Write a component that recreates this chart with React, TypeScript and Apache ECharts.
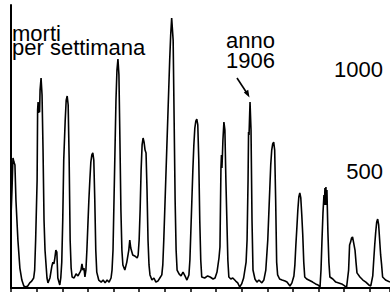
import React, { useEffect, useRef } from "react";
import * as echarts from "echarts";

// settimana (weeks since start of 1897) and weekly deaths
const settimane: number[] = [
  0, 2, 4, 6, 8, 10, 14, 18, 22, 26, 30, 34, 38, 42, 46, 48, 50, 53, 54, 55, 56, 57, 58, 59, 61, 63, 65, 67, 69, 73, 75, 79,
  83, 85, 87, 89, 91, 93, 95, 99, 101, 103, 105, 107, 110, 112, 114, 116, 118, 120, 122, 124, 128, 132, 136, 140, 142, 144,
  146, 148, 150, 152, 154, 156, 158, 160, 162, 164, 166, 168, 170, 172, 174, 178, 183, 187, 191, 195, 199, 203, 205, 207,
  209, 211, 213, 215, 217, 219, 221, 223, 225, 227, 231, 235, 239, 241, 243, 247, 251, 256, 258, 260, 262, 264, 266, 268,
  270, 272, 274, 276, 278, 280, 282, 286, 290, 294, 298, 302, 306, 308, 310, 312, 314, 316, 318, 320, 322, 324, 326, 329,
  331, 333, 335, 337, 341, 345, 349, 353, 357, 361, 363, 365, 367, 369, 371, 373, 375, 377, 379, 381, 383, 385, 387, 393,
  399, 404, 410, 414, 418, 422, 424, 426, 427, 428, 429, 430, 432, 434, 436, 438, 440, 442, 446, 450, 456, 460, 464, 468,
  472, 477, 479, 481, 482, 483, 485, 487, 489, 491, 495, 499, 503, 509, 513, 517, 519, 521, 523, 525, 527, 529, 531, 533,
  535, 537, 539, 541, 545, 550, 556, 560, 566, 570, 574, 576, 578, 580, 582, 584, 586, 588, 590, 592, 594, 596, 600, 604,
  608, 612, 618, 623, 627, 629, 631, 633, 635, 636, 637, 638, 639, 640, 641, 643, 645, 647, 653, 659, 665, 671, 677, 681,
  685, 687, 689, 691, 693, 695, 698, 700, 702, 708, 714, 720, 726, 730, 734, 736, 738, 740, 742, 744, 746, 748, 750, 752,
  754, 760, 769,
];

const morti: number[] = [
  348, 480, 637, 617, 603, 431, 235, 98, 39, 10, 5, 10, 25, 34, 49, 88, 235, 529, 872, 911, 858, 902, 862, 970, 1029, 946, 676, 333, 186, 49, 25, 49,
  108, 127, 118, 147, 186, 176, 49, 15, 49, 127, 333, 627, 823, 921, 941, 897, 627, 235, 98, 54, 49, 69, 59, 78, 88, 118,
  88, 98, 54, 88, 186, 309, 431, 529, 617, 652, 662, 627, 431, 186, 78, 39, 29, 39, 25, 39, 29, 49, 88, 186,
  431, 676, 921, 1068, 1122, 1044, 725, 382, 186, 113, 88, 127, 186, 235, 196, 162, 157, 147, 162, 235, 382, 578, 701, 735,
  715, 676, 662, 480, 235, 113, 64, 39, 49, 29, 34, 49, 64, 113, 235, 382, 529, 676, 823, 970, 1117, 1240, 1323, 1215,
  823, 431, 186, 88, 69, 59, 78, 59, 39, 64, 137, 284, 431, 578, 701, 784, 818, 828, 799, 627, 333, 137, 54, 49,
  59, 54, 44, 49, 78, 147, 201, 588, 652, 588, 652, 725, 813, 774, 529, 333, 137, 54, 44, 49, 34, 25, 5, 20,
  49, 127, 235, 529, 764, 750, 911, 774, 333, 88, 44, 29, 39, 25, 39, 88, 162, 235, 358, 480, 603, 676, 706, 715,
  676, 431, 127, 64, 44, 39, 34, 29, 10, 25, 59, 113, 211, 294, 382, 446, 466, 441, 358, 260, 127, 54, 44, 39,
  34, 29, 20, 15, 5, 88, 235, 368, 456, 407, 490, 407, 495, 407, 480, 274, 127, 54, 44, 29, 25, 20, 10, 5,
  88, 211, 225, 245, 250, 225, 186, 127, 74, 54, 39, 29, 15, 10, 59, 137, 211, 274, 323, 338, 309, 235, 162, 113,
  54, 39, 29,
];

const etichetteY: number[] = [500, 1000];
const titolo = "morti\nper settimana";
const nota = "anno\n1906";

const FONT = "'Liberation Sans', Arial, Helvetica, sans-serif";

export default function App() {
  const ref = useRef<HTMLDivElement>(null);
  useEffect(() => {
    if (!ref.current) return;
    const chart = echarts.init(ref.current, undefined, { renderer: "svg" });
    const data = settimane.map((w, i) => [w, morti[i]]);
    chart.setOption({
      animation: false,
      backgroundColor: "#fff",
      grid: { left: 11, right: 0, top: 5, bottom: 4, containLabel: false },
      xAxis: {
        type: "value",
        min: 0,
        max: 769,
        interval: 52,
        axisLine: { show: true, lineStyle: { color: "#000", width: 2 } },
        axisTick: { show: true, length: 5, lineStyle: { color: "#000", width: 1.5 } },
        axisLabel: { show: false },
        splitLine: { show: false },
      },
      yAxis: [
        {
          type: "value",
          position: "left",
          min: 0,
          max: 1387,
          axisLine: { show: true, lineStyle: { color: "#000", width: 2 } },
          axisTick: { show: false },
          axisLabel: { show: false },
          splitLine: { show: false },
        },
        {
          type: "value",
          position: "right",
          min: 0,
          max: 1387,
          axisLine: { show: false },
          axisTick: { show: false },
          splitLine: { show: false },
          axisLabel: {
            show: true,
            inside: true,
            margin: 7,
            customValues: etichetteY,
            color: "#000",
            fontSize: 22,
            fontFamily: FONT,
            verticalAlign: "bottom",
            lineHeight: 28,
            formatter: (v: number) => (etichetteY.indexOf(v) >= 0 ? String(v) : ""),
          },
        },
      ],
      series: [
        {
          type: "line",
          yAxisIndex: 0,
          data,
          symbol: "none",
          lineStyle: { color: "#000", width: 1.6 },
          z: 3,
        },
      ],
      graphic: [
        {
          type: "text",
          left: 12,
          top: 22,
          style: {
            text: titolo,
            font: `22px ${FONT}`,
            fill: "#000",
            lineHeight: 14,
          },
        },
        {
          type: "text",
          x: 250.5,
          y: 30.5,
          style: {
            text: nota,
            font: `22px ${FONT}`,
            fill: "#000",
            lineHeight: 20,
            textAlign: "center",
            textVerticalAlign: "top",
          },
        },
        {
          type: "line",
          shape: { x1: 237, y1: 78, x2: 246.5, y2: 92.5 },
          style: { stroke: "#000", lineWidth: 1.6 },
        },
        {
          type: "polygon",
          shape: { points: [[249.5, 97.5], [243.8, 92.6], [248.2, 89.8]] },
          style: { fill: "#000" },
        },
      ],
    });
    return () => chart.dispose();
  }, []);
  return (
    <div
      ref={ref}
      style={{ position: "absolute", left: 0, top: 0, width: 390, height: 292, background: "#fff" }}
    />
  );
}
